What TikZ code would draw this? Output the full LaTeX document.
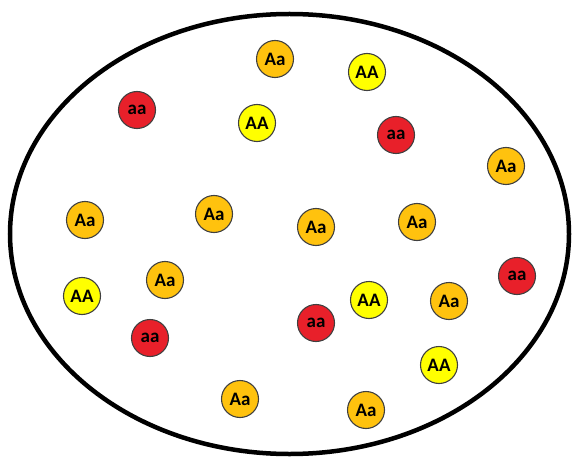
\documentclass[tikz,border=0pt]{standalone}
\usepackage{fontspec}
\setmainfont{Carlito}
\definecolor{redaa}{HTML}{E8202A}
\definecolor{orangeAa}{HTML}{FFC20E}
\definecolor{yellowAA}{HTML}{FFFF00}
\definecolor{rim}{HTML}{404040}
\begin{document}
\begin{tikzpicture}[x=1pt,y=-1pt,
  allele/.style={circle,draw=rim,line width=1.1pt,minimum size=37pt,inner sep=0pt,
    font=\fontsize{19}{19}\selectfont\bfseries},
  homdom/.style={allele,fill=yellowAA},
  het/.style={allele,fill=orangeAa},
  homrec/.style={allele,fill=redaa}]
\useasboundingbox (0,0) rectangle (572,457);
% population boundary
\draw[line width=4.5pt] (289.5,234) ellipse [x radius=279.5, y radius=220];
% individuals
\node[het]    (p1)  at (275,59)  {Aa};
\node[homdom] (p2)  at (367,72)  {AA};
\node[homrec] (p3)  at (137,110) {aa};
\node[homdom] (p4)  at (257,123) {AA};
\node[homrec] (p5)  at (396,135) {aa};
\node[het]    (p6)  at (506,166) {Aa};
\node[het]    (p7)  at (85,220)  {Aa};
\node[het]    (p8)  at (214,214) {Aa};
\node[het]    (p9)  at (316,227) {Aa};
\node[het]    (p10) at (417,222) {Aa};
\node[homrec] (p11) at (517,276) {aa};
\node[het]    (p12) at (165,280) {Aa};
\node[homdom] (p13) at (82,296)  {AA};
\node[homdom] (p14) at (369,300) {AA};
\node[het]    (p15) at (449,301) {Aa};
\node[homrec] (p16) at (150,338) {aa};
\node[homrec] (p17) at (316,323) {aa};
\node[homdom] (p18) at (439,365) {AA};
\node[het]    (p19) at (240,399) {Aa};
\node[het]    (p20) at (366,410) {Aa};
\end{tikzpicture}
\end{document}
